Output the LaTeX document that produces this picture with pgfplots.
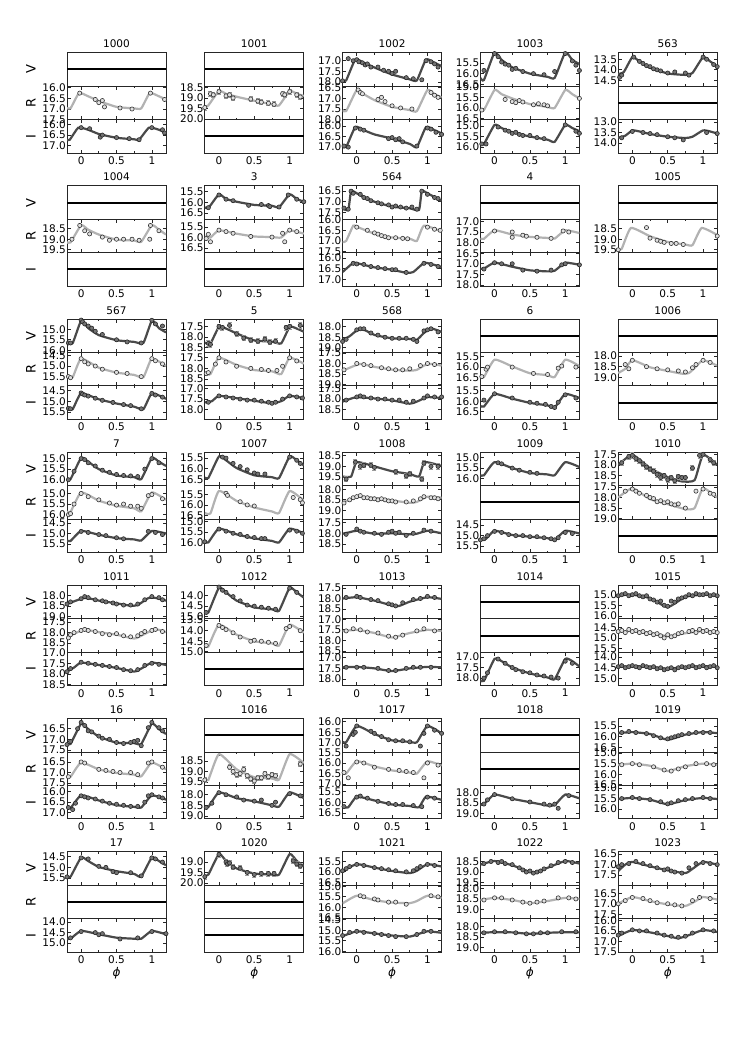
\documentclass[border=0pt]{standalone}
\usepackage{fontspec}
\setmainfont{DejaVu Sans}
\usepackage{pgfplots}
\pgfplotsset{compat=1.18}

\definecolor{dk}{HTML}{4A4A4A}
\definecolor{lt}{HTML}{B2B2B2}

\pgfplotsset{
  panel/.style={scale only axis, width=99pt, height=33.45pt, anchor=north west,
    xmin=-0.2, xmax=1.2, y dir=reverse,
    axis line style={line width=0.9pt, black!85},
    xtick={0,0.5,1}, minor xtick={0.25,0.75}, xticklabels={},
    ytick distance=0.5, tick align=inside,
    major tick length=3.5pt, minor tick length=2pt,
    tick style={line width=0.7pt, black!85},
    tick label style={font=\fontsize{10.5}{10.5}\selectfont},
    yticklabel style={inner sep=1pt},
    /pgf/number format/assume math mode=true,
    /pgf/number format/fixed, /pgf/number format/fixed zerofill,
    /pgf/number format/precision=1},
  bot/.style={xticklabels={0,0.5,1}},
  botx/.style={bot, xlabel={ϕ}, xlabel style={font=\fontsize{12}{12}\selectfont\itshape, yshift=3pt}},
  Vline/.style={dk, line width=2.2pt, smooth, tension=0.3, no marks},
  Iline/.style={Vline},
  Rline/.style={lt, line width=2.2pt, smooth, tension=0.3, no marks},
  Vpts/.style={only marks, mark=*, mark size=2.1pt, mark options={draw=black!85, fill=black!55, line width=0.6pt}},
  Ipts/.style={Vpts},
  Rpts/.style={only marks, mark=*, mark size=2.1pt, mark options={draw=black!80, fill=black!12, line width=0.6pt}},
  eb/.style={error bars/.cd, y dir=both, y fixed=0.12, error bar style={gray!80, line width=0.8pt}, error mark options={rotate=90, mark size=2pt, gray!80, line width=0.8pt}},
  VEline/.style={Vline}, VEpts/.style={Vpts, eb},
  REline/.style={Rline}, REpts/.style={Rpts, eb},
}

% #1 col, #2 row, #3 band, #4 top mag, #5 V/R/I, #6 model, #7 points, #8 options
\newcommand{\band}[8]{%
  \pgfmathsetmacro\bandx{67+137.8*#1}%
  \pgfmathsetmacro\bandy{52.7+133.17*#2+33.45*#3}%
  \pgfmathsetmacro\bandt{#4+1.581}%
  \begin{axis}[panel, at={(\bandx pt,-\bandy pt)}, ymin=#4, ymax=\bandt, #8]
    \addplot[#5line] coordinates {#6};
    \addplot[#5pts] coordinates {#7};
  \end{axis}}

% empty band: frame and a thick middle line
\newcommand{\eband}[4]{%
  \pgfmathsetmacro\bandx{67+137.8*#1}%
  \pgfmathsetmacro\bandy{52.7+133.17*#2+33.45*#3}%
  \begin{axis}[panel, at={(\bandx pt,-\bandy pt)}, ymin=0, ymax=1, ytick=\empty,
      tick style={draw=none}, #4]
    \addplot[black, line width=2pt, no marks] coordinates {(-0.2,0.5) (1.2,0.5)};
  \end{axis}}

\newcommand{\ttl}[3]{%
  \pgfmathsetmacro\bandx{67+137.8*#1+49.5}%
  \pgfmathsetmacro\bandy{52.7+133.17*#2-8.7}%
  \node[font=\fontsize{10.5}{11}\selectfont] at (\bandx pt,-\bandy pt) {#3};}

\newcommand{\vri}[1]{%
  \pgfmathsetmacro\bandy{52.7+133.17*#1+16.7}%
  \node[rotate=90, font=\fontsize{13}{13}\selectfont] at (31pt,-\bandy pt) {V};
  \pgfmathsetmacro\bandy{52.7+133.17*#1+50.2}%
  \node[rotate=90, font=\fontsize{13}{13}\selectfont] at (31pt,-\bandy pt) {R};
  \pgfmathsetmacro\bandy{52.7+133.17*#1+83.6}%
  \node[rotate=90, font=\fontsize{13}{13}\selectfont] at (31pt,-\bandy pt) {I};}

\begin{document}
\begin{tikzpicture}
\path[use as bounding box] (0,0) rectangle (747pt,-1046pt);
\foreach \r in {0,...,6} {\vri{\r}}

% ---------------- row 0
\ttl{0}{0}{1000}
\eband{0}{0}{0}{}
\band{0}{0}{1}{15.92}{R}{(-0.2,16.95)(-0.15,16.97)(-0.03,16.25)(0.1,16.4)(0.25,16.62)(0.5,16.9)(0.75,16.97)(0.85,16.97)(0.97,16.25)(1.1,16.4)(1.2,16.55)}
 {(-0.02,16.25)(0.2,16.55)(0.25,16.7)(0.3,16.6)(0.33,16.9)(0.55,16.95)(0.72,17.0)(0.98,16.25)(1.18,16.55)}{}
\band{0}{0}{2}{15.77}{I}{(-0.2,16.72)(-0.16,16.72)(-0.04,16.15)(0.1,16.25)(0.25,16.45)(0.5,16.63)(0.75,16.7)(0.82,16.72)(0.96,16.15)(1.1,16.25)(1.2,16.4)}
 {(0.0,16.15)(0.12,16.2)(0.27,16.6)(0.3,16.5)(0.5,16.62)(0.68,16.67)(0.82,16.72)(1.0,16.15)(1.15,16.25)(1.18,16.4)}{bot}

\ttl{1}{0}{1001}
\eband{1}{0}{0}{}
\band{1}{0}{1}{18.44}{RE}{(-0.2,19.45)(-0.15,19.35)(0.0,18.67)(0.1,18.8)(0.25,18.94)(0.5,19.13)(0.75,19.3)(0.85,19.35)(1.0,18.67)(1.1,18.8)(1.2,18.9)}
 {(-0.2,19.45)(-0.12,18.8)(-0.08,18.85)(0.0,18.7)(0.1,18.9)(0.15,18.85)(0.2,19.0)(0.45,19.05)(0.55,19.15)(0.6,19.2)(0.7,19.25)(0.78,19.3)(0.9,18.8)(0.93,18.85)(1.0,18.7)(1.1,18.85)(1.15,18.95)}{}
\eband{1}{0}{2}{bot}

\ttl{2}{0}{1002}
\band{2}{0}{0}{16.62}{V}{(-0.2,17.93)(-0.15,17.93)(-0.02,16.94)(0.1,17.1)(0.25,17.32)(0.5,17.65)(0.75,17.88)(0.85,17.93)(0.98,16.94)(1.1,17.1)(1.2,17.25)}
 {(-0.2,17.95)(-0.12,16.9)(-0.05,17.0)(0.0,16.95)(0.03,17.05)(0.08,17.1)(0.12,17.2)(0.15,17.15)(0.2,17.3)(0.3,17.3)(0.38,17.45)(0.45,17.5)(0.5,17.6)(0.55,17.5)(0.7,17.8)(0.8,17.85)(0.92,17.9)(0.98,17.0)(1.05,17.05)(1.1,17.15)(1.15,17.3)}{}
\band{2}{0}{1}{16.42}{R}{(-0.2,17.55)(-0.15,17.6)(0.0,16.6)(0.1,16.8)(0.25,17.08)(0.5,17.4)(0.75,17.55)(0.85,17.6)(1.0,16.6)(1.1,16.8)(1.2,16.95)}
 {(0.02,16.6)(0.05,16.72)(0.08,16.78)(0.3,17.05)(0.35,16.95)(0.4,17.15)(0.5,17.35)(0.62,17.45)(0.78,17.5)(1.05,16.72)(1.1,16.85)(1.15,16.95)}{}
\band{2}{0}{2}{15.7}{I}{(-0.2,16.95)(-0.15,17.0)(-0.02,16.05)(0.1,16.2)(0.25,16.4)(0.5,16.6)(0.75,16.85)(0.85,17.0)(0.98,16.05)(1.1,16.2)(1.2,16.35)}
 {(-0.18,16.95)(-0.12,17.0)(-0.02,16.1)(0.05,16.15)(0.1,16.2)(0.45,16.6)(0.5,16.55)(0.55,16.65)(0.6,16.6)(0.65,16.75)(0.85,16.95)(1.0,16.1)(1.05,16.15)(1.12,16.3)(1.2,16.4)}{bot}

\ttl{3}{0}{1003}
\band{3}{0}{0}{15.01}{V}{(-0.2,16.2)(-0.15,16.3)(0.0,15.0)(0.1,15.35)(0.25,15.7)(0.5,16.0)(0.75,16.15)(0.85,16.2)(1.0,15.0)(1.1,15.35)(1.2,15.55)}
 {(-0.15,15.85)(0.0,15.05)(0.05,15.2)(0.1,15.45)(0.15,15.55)(0.2,15.6)(0.25,15.8)(0.3,15.75)(0.4,15.9)(0.55,16.0)(0.7,16.05)(0.85,15.9)(1.0,15.05)(1.1,15.4)(1.15,15.6)(1.2,15.85)}{}
\band{3}{0}{1}{14.97}{R}{(-0.2,16.05)(-0.15,16.1)(0.0,15.15)(0.1,15.35)(0.25,15.55)(0.5,15.82)(0.75,15.95)(0.85,16.0)(1.0,15.15)(1.1,15.35)(1.2,15.55)}
 {(-0.18,16.1)(0.15,15.6)(0.25,15.7)(0.3,15.75)(0.35,15.65)(0.4,15.72)(0.55,15.85)(0.62,15.8)(0.7,15.85)(0.75,15.9)(1.2,15.55)}{}
\band{3}{0}{2}{14.7}{I}{(-0.2,15.8)(-0.15,15.85)(0.0,14.95)(0.1,15.1)(0.25,15.3)(0.5,15.5)(0.75,15.65)(0.85,15.75)(1.0,14.95)(1.1,15.1)(1.2,15.25)}
 {(-0.18,15.85)(-0.12,15.85)(0.05,15.05)(0.15,15.2)(0.2,15.25)(0.25,15.35)(0.3,15.3)(0.35,15.4)(0.4,15.45)(0.5,15.45)(0.6,15.55)(0.7,15.6)(1.0,14.95)(1.15,15.25)(1.2,15.35)}{bot}

\ttl{4}{0}{563}
\band{4}{0}{0}{13.19}{V}{(-0.2,14.2)(-0.12,14.1)(0.0,13.4)(0.1,13.6)(0.25,13.9)(0.5,14.17)(0.75,14.24)(0.85,14.15)(1.0,13.4)(1.1,13.6)(1.2,13.85)}
 {(-0.18,14.35)(-0.15,14.25)(0.02,13.4)(0.1,13.6)(0.15,13.7)(0.2,13.8)(0.25,13.85)(0.3,13.95)(0.35,14.0)(0.4,14.05)(0.5,14.15)(0.6,14.1)(0.75,14.15)(0.8,14.25)(1.0,13.4)(1.05,13.5)(1.15,13.75)(1.2,13.85)}{}
\eband{4}{0}{1}{}
\band{4}{0}{2}{12.89}{I}{(-0.2,13.75)(-0.1,13.65)(0.0,13.4)(0.1,13.45)(0.25,13.57)(0.5,13.7)(0.75,13.76)(0.85,13.7)(1.0,13.4)(1.1,13.45)(1.2,13.55)}
 {(-0.15,13.75)(0.0,13.45)(0.15,13.5)(0.25,13.55)(0.35,13.6)(0.5,13.7)(0.6,13.75)(0.72,13.85)(1.05,13.5)(1.2,13.55)}{bot}

% ---------------- row 1
\ttl{0}{1}{1004}
\eband{0}{1}{0}{}
\band{0}{1}{1}{18.06}{R}{(-0.2,19.14)(-0.15,19.15)(0.0,18.34)(0.1,18.55)(0.25,18.78)(0.5,19.02)(0.75,19.06)(0.85,19.12)(1.0,18.34)(1.1,18.55)(1.2,18.78)}
 {(-0.13,19.0)(-0.02,18.35)(0.05,18.6)(0.12,18.75)(0.3,18.9)(0.4,19.05)(0.5,19.0)(0.6,19.0)(0.72,19.0)(0.82,19.05)(0.97,19.0)(0.98,18.35)(1.1,18.6)}{}
\eband{0}{1}{2}{bot}

\ttl{1}{1}{3}
\band{1}{1}{0}{15.22}{V}{(-0.2,16.23)(-0.15,16.27)(0.0,15.62)(0.1,15.84)(0.25,15.97)(0.5,16.12)(0.75,16.16)(0.85,16.23)(1.0,15.62)(1.1,15.84)(1.2,15.97)}
 {(-0.15,16.25)(0.0,15.65)(0.1,15.85)(0.2,15.92)(0.42,16.14)(0.6,16.1)(0.7,16.15)(0.72,16.2)(0.85,16.22)(0.98,15.65)(1.1,15.85)(1.2,15.97)}{}
\band{1}{1}{1}{15.14}{R}{(-0.2,15.95)(-0.12,16.0)(0.0,15.66)(0.25,15.82)(0.5,15.95)(0.75,15.98)(0.88,16.0)(1.0,15.66)(1.2,15.82)}
 {(-0.18,16.05)(-0.15,15.85)(-0.12,16.2)(0.0,15.65)(0.1,15.72)(0.2,15.8)(0.45,15.95)(0.75,15.98)(0.9,15.8)(0.93,16.2)(1.0,15.65)(1.1,15.72)}{}
\eband{1}{1}{2}{bot}

\ttl{2}{1}{564}
\band{2}{1}{0}{16.25}{V}{(-0.2,17.31)(-0.12,17.39)(-0.08,16.5)(0.0,16.6)(0.1,16.78)(0.25,17.0)(0.5,17.23)(0.75,17.31)(0.88,17.39)(0.92,16.5)(1.0,16.6)(1.1,16.78)(1.2,16.95)}
 {(-0.18,17.3)(-0.12,17.35)(-0.08,16.5)(-0.05,16.6)(0.05,16.65)(0.1,16.8)(0.15,16.85)(0.2,16.95)(0.3,17.05)(0.35,17.1)(0.45,17.15)(0.5,17.25)(0.55,17.2)(0.62,17.25)(0.7,17.3)(0.78,17.25)(0.85,17.35)(0.92,16.5)(1.0,16.65)(1.1,16.8)(1.15,16.85)}{}
\band{2}{1}{1}{15.98}{R}{(-0.2,17.06)(-0.15,17.0)(-0.05,16.28)(0.0,16.33)(0.25,16.66)(0.5,16.84)(0.75,16.9)(0.85,17.0)(0.95,16.28)(1.2,16.56)}
 {(0.0,16.35)(0.15,16.5)(0.25,16.62)(0.3,16.68)(0.35,16.75)(0.4,16.8)(0.45,16.85)(0.55,16.85)(0.65,16.88)(0.72,16.9)(1.0,16.35)(1.1,16.45)(1.18,16.5)}{}
\band{2}{1}{2}{15.75}{I}{(-0.2,16.66)(-0.05,16.23)(0.05,16.28)(0.25,16.44)(0.5,16.55)(0.7,16.7)(0.8,16.66)(0.95,16.23)(1.05,16.28)(1.2,16.42)}
 {(-0.05,16.25)(0.0,16.28)(0.1,16.3)(0.2,16.4)(0.3,16.45)(0.4,16.5)(0.5,16.55)(0.55,16.55)(0.7,16.68)(0.95,16.25)(1.05,16.3)(1.15,16.4)}{bot}

\ttl{3}{1}{4}
\eband{3}{1}{0}{}
\band{3}{1}{1}{16.9}{R}{(-0.2,17.81)(-0.15,17.82)(0.0,17.42)(0.25,17.62)(0.5,17.73)(0.75,17.78)(0.85,17.81)(1.0,17.42)(1.2,17.55)}
 {(0.0,17.45)(0.25,17.5)(0.25,17.75)(0.4,17.65)(0.45,17.7)(0.6,17.75)(0.8,17.8)(0.97,17.45)(1.05,17.5)}{}
\band{3}{1}{2}{16.48}{I}{(-0.2,17.23)(-0.15,17.23)(0.0,16.95)(0.25,17.14)(0.5,17.31)(0.75,17.36)(0.85,17.33)(1.0,16.95)(1.2,17.05)}
 {(-0.15,17.25)(0.0,16.95)(0.1,17.0)(0.25,17.0)(0.4,17.3)(0.6,17.35)(0.8,17.3)(0.95,17.05)(1.0,17.0)(1.2,17.05)}{bot}

\ttl{4}{1}{1005}
\eband{4}{1}{0}{}
\band{4}{1}{1}{18.06}{R}{(-0.2,19.5)(-0.15,19.45)(-0.02,18.47)(0.25,18.86)(0.5,19.13)(0.75,19.25)(0.85,19.28)(0.98,18.47)(1.2,18.8)}
 {(-0.2,19.5)(0.2,18.45)(0.25,18.95)(0.35,19.05)(0.4,19.1)(0.45,19.15)(0.55,19.2)(0.62,19.2)(0.72,19.25)(1.2,18.85)}{}
\eband{4}{1}{2}{bot}

% ---------------- row 2
\ttl{0}{2}{567}
\band{0}{2}{0}{14.52}{V}{(-0.2,15.65)(-0.12,15.66)(0.0,14.6)(0.1,14.95)(0.25,15.28)(0.5,15.52)(0.75,15.6)(0.88,15.65)(1.0,14.6)(1.1,14.95)(1.2,15.15)}
 {(-0.18,15.65)(-0.15,15.65)(0.0,14.57)(0.02,14.65)(0.05,14.75)(0.1,14.85)(0.15,14.95)(0.2,15.1)(0.3,15.25)(0.5,15.5)(0.65,15.6)(0.85,15.65)(1.0,14.58)(1.05,14.75)(1.15,14.85)}{}
\band{0}{2}{1}{14.36}{R}{(-0.2,15.5)(-0.12,15.53)(0.0,14.65)(0.25,15.08)(0.5,15.31)(0.75,15.42)(0.88,15.53)(1.0,14.65)(1.2,15.0)}
 {(-0.18,15.5)(-0.15,15.55)(0.0,14.65)(0.05,14.8)(0.1,14.9)(0.2,15.0)(0.3,15.15)(0.5,15.3)(0.65,15.35)(0.85,15.5)(1.0,14.65)(1.05,14.75)(1.15,14.9)}{}
\band{0}{2}{2}{14.27}{I}{(-0.2,15.34)(-0.12,15.37)(0.0,14.62)(0.25,14.9)(0.5,15.1)(0.75,15.25)(0.88,15.37)(1.0,14.62)(1.2,14.88)}
 {(-0.18,15.33)(-0.15,15.35)(0.0,14.6)(0.02,14.65)(0.05,14.7)(0.1,14.75)(0.2,14.85)(0.3,14.95)(0.45,15.05)(0.6,15.15)(0.7,15.2)(0.85,15.35)(1.0,14.62)(1.05,14.7)(1.15,14.8)}{bot}

\ttl{1}{2}{5}
\band{1}{2}{0}{17.15}{VE}{(-0.2,18.27)(-0.12,18.3)(0.0,17.52)(0.1,17.6)(0.25,17.83)(0.5,18.16)(0.75,18.22)(0.88,18.3)(1.0,17.52)(1.1,17.6)(1.2,17.75)}
 {(-0.15,18.3)(-0.12,18.35)(0.0,17.5)(0.05,17.55)(0.15,17.45)(0.25,17.85)(0.35,18.05)(0.45,18.15)(0.55,18.2)(0.65,18.1)(0.72,18.25)(0.8,18.2)(0.95,17.55)(1.0,17.5)(1.15,17.45)}{}
\band{1}{2}{1}{17.25}{R}{(-0.2,18.27)(-0.12,18.27)(0.0,17.5)(0.25,17.84)(0.5,18.08)(0.75,18.14)(0.88,18.27)(1.0,17.5)(1.2,17.78)}
 {(-0.18,18.25)(-0.15,18.2)(-0.05,17.8)(0.0,17.5)(0.1,17.7)(0.25,17.9)(0.45,18.0)(0.6,18.05)(0.7,18.1)(0.82,18.1)(0.9,17.9)(1.0,17.5)(1.1,17.65)}{}
\band{1}{2}{2}{16.88}{I}{(-0.2,17.66)(-0.1,17.6)(0.0,17.35)(0.25,17.46)(0.5,17.58)(0.75,17.7)(0.88,17.6)(1.0,17.35)(1.2,17.46)}
 {(-0.15,17.65)(0.0,17.35)(0.1,17.4)(0.2,17.45)(0.3,17.5)(0.4,17.55)(0.5,17.55)(0.6,17.6)(0.7,17.65)(0.75,17.7)(0.8,17.65)(0.9,17.5)(1.0,17.35)(1.1,17.4)(1.18,17.45)}{bot}

\ttl{2}{2}{568}
\band{2}{2}{0}{17.64}{V}{(-0.2,18.62)(-0.1,18.45)(0.05,18.08)(0.25,18.39)(0.5,18.55)(0.75,18.58)(0.85,18.62)(0.95,18.3)(1.05,18.08)(1.2,18.25)}
 {(-0.2,18.7)(-0.15,18.6)(0.0,18.15)(0.05,18.1)(0.1,18.1)(0.2,18.3)(0.3,18.4)(0.4,18.5)(0.5,18.55)(0.6,18.55)(0.7,18.55)(0.8,18.6)(0.85,18.7)(0.95,18.2)(1.0,18.15)(1.05,18.1)(1.15,18.25)}{}
\band{2}{2}{1}{17.48}{R}{(-0.2,18.35)(-0.1,18.2)(0.05,18.02)(0.25,18.16)(0.5,18.29)(0.75,18.34)(0.85,18.3)(0.95,18.1)(1.05,18.02)(1.2,18.1)}
 {(-0.18,18.3)(0.0,18.0)(0.1,18.05)(0.2,18.1)(0.35,18.2)(0.45,18.25)(0.55,18.3)(0.65,18.3)(0.75,18.25)(0.9,18.1)(1.0,18.0)(1.1,18.05)}{}
\band{2}{2}{2}{17.38}{I}{(-0.2,18.12)(-0.1,18.0)(0.0,17.91)(0.25,17.97)(0.5,18.06)(0.75,18.22)(0.85,18.12)(1.0,17.91)(1.2,17.95)}
 {(-0.15,18.05)(0.0,17.9)(0.05,17.85)(0.1,17.9)(0.2,17.95)(0.3,18.0)(0.4,18.0)(0.5,18.05)(0.6,18.05)(0.7,18.15)(0.8,18.1)(0.95,17.95)(1.0,17.85)(1.1,17.9)(1.2,17.9)}{bot}

\ttl{3}{2}{6}
\eband{3}{2}{0}{}
\band{3}{2}{1}{15.31}{R}{(-0.2,16.45)(-0.15,16.47)(0.0,15.65)(0.25,15.97)(0.5,16.29)(0.75,16.38)(0.85,16.47)(1.0,15.65)(1.2,15.95)}
 {(-0.18,16.45)(-0.12,16.1)(-0.1,16.0)(0.25,16.0)(0.55,16.3)(0.75,16.35)(0.9,16.05)(0.95,15.95)(1.15,16.0)}{}
\band{3}{2}{2}{15.28}{I}{(-0.2,16.23)(-0.15,16.25)(0.0,15.66)(0.25,15.88)(0.5,16.08)(0.75,16.2)(0.85,16.3)(1.0,15.66)(1.2,15.85)}
 {(-0.15,15.95)(0.0,15.65)(0.25,15.85)(0.5,16.05)(0.6,16.1)(0.72,16.15)(0.8,16.25)(0.85,16.3)(0.9,16.05)(1.0,15.7)(1.15,15.85)}{bot}

\ttl{4}{2}{1006}
\eband{4}{2}{0}{}
\band{4}{2}{1}{17.83}{R}{(-0.2,18.8)(-0.1,18.6)(0.0,18.19)(0.25,18.53)(0.5,18.7)(0.7,18.83)(0.8,18.8)(0.9,18.5)(1.0,18.19)(1.2,18.45)}
 {(-0.1,18.4)(-0.05,18.6)(0.0,18.2)(0.2,18.5)(0.35,18.6)(0.5,18.65)(0.65,18.7)(0.75,18.75)(0.85,18.55)(0.9,18.4)(1.0,18.2)(1.1,18.3)}{}
\eband{4}{2}{2}{bot}

% ---------------- row 3
\ttl{0}{3}{7}
\band{0}{3}{0}{14.7}{V}{(-0.2,15.95)(-0.15,15.97)(0.0,14.97)(0.1,15.15)(0.25,15.5)(0.5,15.8)(0.75,15.88)(0.85,15.97)(1.0,14.97)(1.1,15.15)(1.2,15.35)}
 {(-0.18,16.0)(-0.1,15.6)(0.0,15.0)(0.05,15.05)(0.1,15.2)(0.2,15.35)(0.3,15.55)(0.4,15.65)(0.5,15.75)(0.6,15.8)(0.7,15.82)(0.8,15.85)(0.9,15.5)(1.0,15.0)(1.1,15.2)}{}
\band{0}{3}{1}{14.63}{R}{(-0.2,15.85)(-0.15,15.87)(0.0,14.95)(0.25,15.34)(0.5,15.58)(0.75,15.7)(0.85,15.84)(1.0,14.95)(1.2,15.3)}
 {(-0.18,16.0)(-0.15,15.95)(-0.1,15.5)(0.0,15.0)(0.1,15.15)(0.25,15.3)(0.4,15.45)(0.5,15.55)(0.6,15.5)(0.7,15.6)(0.8,15.6)(0.85,15.7)(0.95,15.1)(1.0,15.05)(1.15,15.25)}{}
\band{0}{3}{2}{14.32}{I}{(-0.2,15.33)(-0.15,15.35)(0.0,14.88)(0.25,15.06)(0.5,15.22)(0.75,15.28)(0.85,15.33)(1.0,14.88)(1.2,15.0)}
 {(0.0,14.9)(0.1,14.95)(0.25,15.05)(0.35,15.1)(0.5,15.2)(0.6,15.25)(0.95,14.9)(1.05,14.95)(1.15,15.05)}{bot}

\ttl{1}{3}{1007}
\band{1}{3}{0}{15.22}{V}{(-0.2,16.42)(-0.15,16.44)(0.0,15.42)(0.1,15.6)(0.25,15.97)(0.5,16.31)(0.75,16.4)(0.85,16.44)(1.0,15.42)(1.1,15.6)(1.2,15.85)}
 {(0.05,15.45)(0.1,15.5)(0.2,15.75)(0.3,15.9)(0.4,16.05)(0.5,16.2)(0.55,16.25)(0.65,16.25)(1.0,15.45)(1.1,15.6)(1.15,15.75)}{}
\band{1}{3}{1}{15.09}{R}{(-0.2,16.38)(-0.12,16.4)(0.0,15.34)(0.25,15.81)(0.5,16.12)(0.75,16.31)(0.85,16.38)(1.0,15.34)(1.2,15.8)}
 {(0.1,15.45)(0.12,15.55)(0.3,15.85)(0.4,16.0)(0.5,16.05)(1.05,15.65)(1.15,15.75)(1.18,15.9)}{}
\band{1}{3}{2}{14.88}{I}{(-0.2,15.96)(-0.15,15.98)(0.0,15.33)(0.25,15.6)(0.5,15.79)(0.75,15.91)(0.85,15.98)(1.0,15.33)(1.2,15.55)}
 {(-0.2,15.95)(0.0,15.35)(0.1,15.45)(0.2,15.55)(0.3,15.6)(0.4,15.7)(0.5,15.75)(0.6,15.8)(0.65,15.8)(1.0,15.4)(1.1,15.45)(1.18,15.55)}{bot}

\ttl{2}{3}{1008}
\band{2}{3}{0}{18.33}{VE}{(-0.2,19.48)(-0.08,19.48)(0.0,18.8)(0.25,19.0)(0.5,19.23)(0.75,19.36)(0.88,19.48)(0.96,18.8)(1.2,18.98)}
 {(-0.15,19.6)(-0.02,18.8)(0.05,19.0)(0.1,18.95)(0.2,18.95)(0.25,19.05)(0.55,19.25)(0.7,19.45)(0.75,19.35)(0.92,19.6)(0.95,18.85)(1.05,19.0)(1.15,19.0)}{}
\band{2}{3}{1}{17.83}{R}{(-0.2,18.62)(-0.1,18.5)(0.0,18.35)(0.25,18.41)(0.5,18.53)(0.75,18.64)(0.85,18.6)(1.0,18.35)(1.2,18.4)}
 {(-0.18,18.65)(-0.1,18.5)(-0.05,18.4)(0.0,18.35)(0.05,18.3)(0.1,18.4)(0.15,18.4)(0.2,18.45)(0.25,18.45)(0.3,18.5)(0.35,18.45)(0.4,18.5)(0.45,18.55)(0.5,18.55)(0.55,18.6)(0.7,18.6)(0.8,18.55)(0.9,18.45)(0.95,18.35)(1.05,18.4)(1.1,18.4)(1.15,18.45)}{}
\band{2}{3}{2}{17.33}{I}{(-0.2,18.02)(-0.1,17.95)(0.0,17.88)(0.25,18.02)(0.5,18.0)(0.75,18.05)(0.85,18.02)(1.0,17.88)(1.2,18.0)}
 {(-0.15,18.05)(0.0,17.8)(0.05,17.9)(0.1,17.95)(0.25,18.0)(0.35,18.05)(0.45,17.95)(0.5,17.9)(0.55,18.0)(0.6,17.95)(0.7,18.1)(0.8,18.0)(0.95,17.85)(1.05,17.9)}{bot}

\ttl{3}{3}{1009}
\band{3}{3}{0}{14.75}{V}{(-0.2,15.84)(-0.15,15.84)(0.0,15.22)(0.25,15.5)(0.5,15.73)(0.75,15.8)(0.85,15.84)(1.0,15.22)(1.2,15.45)}
 {(0.05,15.25)(0.1,15.3)(0.25,15.5)(0.35,15.6)(0.5,15.7)(0.6,15.75)}{}
\eband{3}{3}{1}{}
\band{3}{3}{2}{14.22}{I}{(-0.2,15.16)(-0.12,15.15)(0.0,14.77)(0.25,14.97)(0.5,15.05)(0.75,15.12)(0.85,15.2)(1.0,14.77)(1.2,14.9)}
 {(-0.2,15.2)(-0.15,15.15)(-0.1,15.0)(0.0,14.8)(0.1,14.85)(0.2,14.95)(0.3,15.0)(0.4,15.0)(0.5,15.05)(0.6,15.05)(0.7,15.1)(0.8,15.15)(0.85,15.2)(0.9,15.1)(1.0,14.85)(1.1,14.9)}{bot}

\ttl{4}{3}{1010}
\band{4}{3}{0}{17.4}{VE}{(-0.2,18.0)(0.0,17.52)(0.25,18.15)(0.5,18.58)(0.7,18.78)(0.88,18.72)(1.0,17.52)(1.2,18.0)}
 {(-0.15,17.9)(-0.05,17.6)(0.0,17.55)(0.05,17.7)(0.1,17.8)(0.15,17.95)(0.2,18.1)(0.25,18.2)(0.3,18.3)(0.35,18.45)(0.4,18.6)(0.45,18.5)(0.5,18.7)(0.55,18.6)(0.6,18.75)(0.65,18.55)(0.7,18.6)(0.75,18.6)(0.85,18.15)(0.95,17.55)(1.0,17.5)(1.1,17.75)(1.15,17.9)}{}
\band{4}{3}{1}{17.44}{R}{(-0.2,18.0)(0.0,17.56)(0.25,18.08)(0.5,18.31)(0.75,18.55)(0.88,18.5)(1.0,17.56)(1.2,18.0)}
 {(-0.1,17.7)(0.0,17.6)(0.05,17.7)(0.1,17.8)(0.2,17.9)(0.25,18.0)(0.3,18.05)(0.35,18.2)(0.4,18.15)(0.45,18.25)(0.5,18.2)(0.55,18.3)(0.6,18.35)(0.65,18.3)(0.75,18.5)(0.9,17.7)(1.0,17.6)(1.1,17.8)(1.15,17.85)}{}
\eband{4}{3}{2}{bot}

% ---------------- row 4
\ttl{0}{4}{1011}
\band{0}{4}{0}{17.52}{V}{(-0.2,18.4)(0.05,18.11)(0.25,18.24)(0.5,18.37)(0.7,18.48)(0.8,18.45)(0.95,18.12)(1.05,18.11)(1.2,18.24)}
 {(-0.2,18.4)(-0.15,18.3)(0.0,18.15)(0.05,18.05)(0.1,18.1)(0.2,18.2)(0.3,18.25)(0.35,18.3)(0.45,18.35)(0.5,18.4)(0.6,18.45)(0.7,18.45)(0.8,18.4)(0.9,18.2)(1.0,18.05)(1.1,18.1)(1.15,18.2)}{}
\band{0}{4}{1}{17.35}{R}{(-0.2,18.24)(-0.1,18.05)(0.05,17.87)(0.25,17.98)(0.5,18.1)(0.75,18.28)(0.85,18.15)(1.0,17.9)(1.1,17.87)(1.2,17.98)}
 {(-0.18,18.25)(-0.15,18.1)(-0.1,18.0)(0.0,17.9)(0.05,17.85)(0.1,17.9)(0.2,17.95)(0.3,18.05)(0.4,18.1)(0.5,18.05)(0.6,18.15)(0.7,18.2)(0.8,18.15)(0.85,18.05)(0.9,17.95)(1.0,17.9)(1.05,17.85)(1.15,17.95)}{}
\band{0}{4}{2}{16.98}{I}{(-0.2,17.89)(-0.1,17.7)(0.0,17.47)(0.25,17.58)(0.5,17.72)(0.75,17.89)(0.85,17.75)(1.0,17.47)(1.2,17.58)}
 {(-0.2,17.9)(-0.15,17.75)(0.0,17.45)(0.1,17.5)(0.2,17.55)(0.3,17.6)(0.4,17.65)(0.5,17.7)(0.6,17.8)(0.7,17.85)(0.8,17.8)(0.9,17.6)(1.0,17.5)(1.1,17.55)}{bot}

\ttl{1}{4}{1012}
\band{1}{4}{0}{13.52}{V}{(-0.2,14.78)(-0.15,14.8)(0.0,13.63)(0.1,13.85)(0.25,14.24)(0.5,14.56)(0.75,14.65)(0.85,14.72)(1.0,13.63)(1.1,13.85)(1.2,14.1)}
 {(-0.18,14.8)(0.0,13.6)(0.05,13.75)(0.1,13.85)(0.2,14.05)(0.3,14.25)(0.4,14.45)(0.5,14.5)(0.6,14.55)(0.7,14.6)(0.8,14.65)(1.0,13.65)(1.1,13.85)}{}
\band{1}{4}{1}{13.44}{R}{(-0.2,14.73)(-0.15,14.75)(0.0,13.72)(0.25,14.19)(0.5,14.5)(0.75,14.6)(0.85,14.7)(1.0,13.72)(1.2,14.1)}
 {(-0.18,14.7)(0.0,13.75)(0.05,13.85)(0.1,13.95)(0.2,14.1)(0.3,14.3)(0.45,14.5)(0.5,14.45)(0.6,14.5)(0.7,14.55)(0.8,14.6)(0.95,13.9)(1.0,13.8)(1.15,14.0)}{}
\eband{1}{4}{2}{bot}

\ttl{2}{4}{1013}
\band{2}{4}{0}{17.38}{V}{(-0.2,18.0)(0.0,17.94)(0.25,18.1)(0.5,18.33)(0.6,18.35)(0.75,18.15)(1.0,17.94)(1.2,18.02)}
 {(-0.15,17.95)(0.0,17.9)(0.05,17.95)(0.2,18.05)(0.3,18.1)(0.45,18.25)(0.5,18.3)(0.55,18.35)(0.65,18.2)(0.8,18.05)(0.9,18.0)(1.0,17.9)(1.1,17.95)}{}
\band{2}{4}{1}{16.98}{R}{(-0.2,17.56)(0.0,17.5)(0.25,17.65)(0.5,17.86)(0.75,17.65)(1.0,17.5)(1.2,17.56)}
 {(-0.15,17.55)(-0.05,17.45)(0.05,17.5)(0.15,17.6)(0.3,17.65)(0.45,17.8)(0.55,17.85)(0.65,17.75)(0.85,17.55)(0.95,17.45)(1.1,17.55)}{}
\band{2}{4}{2}{16.74}{I}{(-0.2,17.45)(0.0,17.43)(0.25,17.5)(0.5,17.63)(0.75,17.5)(1.0,17.43)(1.2,17.45)}
 {(-0.15,17.45)(0.0,17.45)(0.1,17.45)(0.3,17.5)(0.45,17.6)(0.55,17.6)(0.7,17.5)(0.8,17.45)(0.9,17.45)(1.05,17.45)}{bot}

\ttl{3}{4}{1014}
\eband{3}{4}{0}{}
\eband{3}{4}{1}{}
\band{3}{4}{2}{16.78}{I}{(-0.2,18.1)(-0.15,18.13)(0.0,17.09)(0.1,17.2)(0.25,17.5)(0.5,17.78)(0.75,17.97)(0.85,18.05)(1.0,17.09)(1.1,17.2)(1.2,17.45)}
 {(-0.15,18.0)(-0.1,17.75)(0.05,17.1)(0.15,17.3)(0.25,17.5)(0.3,17.6)(0.4,17.7)(0.5,17.75)(0.6,17.85)(0.7,17.9)(0.8,17.95)(0.9,18.0)(1.0,17.2)(1.1,17.3)}{bot}

\ttl{4}{4}{1015}
\band{4}{4}{0}{14.56}{V}{(-0.2,15.03)(0.0,15.0)(0.25,15.16)(0.5,15.59)(0.75,15.1)(1.0,15.0)(1.2,15.03)}
 {(-0.2,15.05)(-0.15,15.0)(-0.1,14.95)(-0.05,15.05)(0.0,15.0)(0.05,14.95)(0.1,15.05)(0.15,15.1)(0.2,15.05)(0.25,15.2)(0.3,15.25)(0.35,15.35)(0.4,15.3)(0.45,15.5)(0.5,15.55)(0.55,15.3)(0.6,15.35)(0.65,15.2)(0.7,15.15)(0.75,15.1)(0.8,15.0)(0.85,15.05)(0.9,14.95)(0.95,15.0)(1.0,15.0)(1.05,14.95)(1.1,15.05)(1.15,15.0)(1.2,15.05)}{}
\band{4}{4}{1}{14.1}{R}{(-0.2,14.7)(0.0,14.68)(0.25,14.75)(0.5,14.92)(0.75,14.78)(1.0,14.68)(1.2,14.7)}
 {(-0.2,14.7)(-0.15,14.65)(-0.1,14.75)(-0.05,14.6)(0.0,14.7)(0.05,14.65)(0.1,14.75)(0.15,14.7)(0.2,14.8)(0.25,14.75)(0.3,14.85)(0.35,14.8)(0.4,14.9)(0.45,15.0)(0.5,14.85)(0.55,14.95)(0.6,14.9)(0.65,14.8)(0.7,14.75)(0.8,14.7)(0.85,14.65)(0.9,14.75)(0.95,14.6)(1.0,14.7)(1.05,14.65)(1.1,14.75)(1.15,14.7)(1.2,14.75)}{}
\band{4}{4}{2}{13.77}{I}{(-0.2,14.45)(0.0,14.43)(0.25,14.45)(0.5,14.55)(0.75,14.46)(1.0,14.43)(1.2,14.45)}
 {(-0.2,14.45)(-0.15,14.4)(-0.1,14.5)(-0.05,14.45)(0.0,14.4)(0.05,14.45)(0.1,14.5)(0.15,14.4)(0.2,14.45)(0.25,14.5)(0.3,14.45)(0.35,14.55)(0.4,14.5)(0.45,14.6)(0.5,14.55)(0.55,14.5)(0.6,14.6)(0.65,14.5)(0.7,14.45)(0.75,14.5)(0.8,14.45)(0.85,14.4)(0.9,14.5)(0.95,14.45)(1.0,14.4)(1.05,14.5)(1.1,14.45)(1.15,14.4)(1.2,14.5)}{bot}

% ---------------- row 5
\ttl{0}{5}{16}
\band{0}{5}{0}{16.02}{V}{(-0.2,17.2)(-0.15,17.22)(0.0,16.26)(0.1,16.52)(0.25,16.87)(0.5,17.16)(0.75,17.18)(0.85,17.22)(1.0,16.26)(1.1,16.52)(1.2,16.75)}
 {(-0.2,17.25)(-0.15,17.1)(-0.05,16.5)(0.0,16.2)(0.05,16.35)(0.1,16.6)(0.15,16.65)(0.25,16.85)(0.3,16.95)(0.4,17.0)(0.5,17.15)(0.6,17.2)(0.7,17.15)(0.75,17.1)(0.8,17.05)(0.85,17.3)(0.95,16.45)(1.0,16.2)(1.1,16.45)(1.15,16.6)}{}
\band{0}{5}{1}{16.03}{R}{(-0.2,17.18)(-0.15,17.2)(0.0,16.53)(0.25,16.85)(0.5,17.02)(0.75,17.1)(0.85,17.18)(1.0,16.53)(1.2,16.85)}
 {(-0.18,17.2)(0.0,16.5)(0.05,16.55)(0.25,16.85)(0.35,16.9)(0.45,16.95)(0.55,17.0)(0.7,17.0)(0.8,17.1)(0.95,16.55)(1.0,16.5)(1.15,16.75)}{}
\band{0}{5}{2}{15.71}{I}{(-0.2,16.77)(-0.15,16.78)(0.0,16.18)(0.25,16.42)(0.5,16.64)(0.75,16.72)(0.85,16.75)(1.0,16.18)(1.2,16.38)}
 {(-0.18,16.75)(-0.12,16.85)(-0.08,16.55)(0.0,16.2)(0.05,16.25)(0.1,16.3)(0.2,16.35)(0.3,16.45)(0.4,16.55)(0.5,16.6)(0.6,16.65)(0.7,16.7)(0.8,16.7)(0.9,16.5)(0.95,16.2)(1.0,16.15)(1.1,16.25)(1.15,16.3)}{bot}

\ttl{1}{5}{1016}
\eband{1}{5}{0}{}
\band{1}{5}{1}{18.08}{RE}{(-0.2,19.38)(-0.15,19.4)(0.0,18.18)(0.25,18.9)(0.5,19.27)(0.75,19.33)(0.85,19.38)(1.0,18.18)(1.2,18.6)}
 {(-0.2,19.4)(0.15,18.8)(0.2,19.0)(0.25,19.15)(0.3,19.1)(0.35,18.9)(0.4,19.2)(0.45,19.35)(0.5,19.45)(0.55,19.3)(0.6,19.3)(0.65,19.1)(0.7,19.25)(0.75,19.15)(0.8,19.2)(1.15,18.65)}{}
\band{1}{5}{2}{17.56}{I}{(-0.2,18.56)(-0.15,18.58)(0.0,17.89)(0.25,18.16)(0.5,18.31)(0.75,18.5)(0.85,18.56)(1.0,17.89)(1.2,18.16)}
 {(-0.18,18.6)(-0.1,18.4)(0.0,17.9)(0.1,18.0)(0.25,18.1)(0.35,18.25)(0.5,18.3)(0.6,18.25)(0.75,18.5)(0.8,18.35)(1.0,17.95)(1.15,18.05)}{bot}

\ttl{2}{5}{1017}
\band{2}{5}{0}{15.85}{V}{(-0.2,16.95)(-0.15,16.97)(0.0,16.2)(0.25,16.58)(0.5,16.88)(0.75,16.95)(0.85,16.97)(1.0,16.2)(1.2,16.55)}
 {(-0.15,17.15)(-0.05,16.6)(-0.02,16.5)(0.0,16.2)(0.2,16.45)(0.25,16.55)(0.35,16.7)(0.45,16.85)(0.55,16.9)(0.65,16.9)(0.75,16.95)(0.9,17.15)(0.95,16.55)(1.0,16.2)(1.1,16.4)(1.2,16.55)}{}
\band{2}{5}{1}{15.48}{R}{(-0.2,16.5)(-0.15,16.5)(0.0,15.92)(0.25,16.16)(0.5,16.35)(0.75,16.45)(0.85,16.5)(1.0,15.92)(1.2,16.12)}
 {(-0.18,16.45)(-0.12,16.7)(0.0,15.95)(0.1,16.0)(0.25,16.2)(0.45,16.3)(0.6,16.35)(0.7,16.4)(0.8,16.45)(0.95,16.7)(1.0,16.0)(1.15,16.1)}{}
\band{2}{5}{2}{15.2}{I}{(-0.2,16.2)(-0.12,16.23)(0.0,15.73)(0.25,15.91)(0.5,16.1)(0.75,16.17)(0.88,16.23)(0.98,15.73)(1.2,15.88)}
 {(-0.18,16.2)(0.0,15.75)(0.05,15.7)(0.15,15.8)(0.3,15.95)(0.45,16.05)(0.55,16.1)(0.65,16.1)(0.8,16.15)(0.92,16.2)(1.0,15.75)(1.1,15.8)}{bot}

\ttl{3}{5}{1018}
\eband{3}{5}{0}{}
\eband{3}{5}{1}{}
\band{3}{5}{2}{17.67}{I}{(-0.2,18.58)(-0.15,18.55)(0.0,18.1)(0.25,18.3)(0.5,18.46)(0.75,18.62)(0.85,18.6)(1.0,18.1)(1.2,18.28)}
 {(-0.15,18.55)(-0.1,18.35)(0.0,18.1)(0.25,18.3)(0.5,18.45)(0.7,18.55)(0.78,18.6)(0.85,18.55)(0.9,18.75)(1.05,18.15)}{bot}

\ttl{4}{5}{1019}
\band{4}{5}{0}{15.14}{V}{(-0.2,15.83)(0.0,15.78)(0.25,15.87)(0.5,16.14)(0.75,15.9)(1.0,15.78)(1.2,15.83)}
 {(-0.15,15.8)(-0.05,15.75)(0.05,15.8)(0.2,15.85)(0.3,15.95)(0.4,16.05)(0.5,16.1)(0.55,16.05)(0.6,16.0)(0.65,15.95)(0.7,15.9)(0.8,15.85)(0.9,15.8)(1.0,15.8)(1.1,15.8)}{}
\band{4}{5}{1}{14.95}{R}{(-0.2,15.56)(0.0,15.5)(0.25,15.6)(0.5,15.85)(0.75,15.62)(1.0,15.5)(1.2,15.56)}
 {(-0.15,15.55)(0.0,15.5)(0.1,15.55)(0.3,15.65)(0.45,15.8)(0.55,15.85)(0.65,15.75)(0.75,15.65)(0.9,15.5)(1.05,15.5)(1.15,15.55)}{}
\band{4}{5}{2}{14.88}{I}{(-0.2,15.52)(0.0,15.47)(0.25,15.55)(0.5,15.77)(0.75,15.57)(1.0,15.47)(1.2,15.52)}
 {(-0.15,15.5)(0.0,15.45)(0.1,15.5)(0.25,15.55)(0.4,15.65)(0.5,15.75)(0.55,15.7)(0.65,15.6)(0.75,15.55)(0.85,15.5)(1.0,15.45)(1.1,15.5)}{bot}

% ---------------- row 6
\ttl{0}{6}{17}
\band{0}{6}{0}{14.26}{V}{(-0.2,15.44)(-0.15,15.44)(0.0,14.53)(0.1,14.7)(0.25,14.98)(0.5,15.18)(0.75,15.31)(0.85,15.44)(1.0,14.53)(1.1,14.7)(1.2,14.9)}
 {(-0.2,15.45)(0.0,14.55)(0.1,14.6)(0.25,14.95)(0.35,15.0)(0.45,15.2)(0.5,15.25)(0.7,15.25)(0.85,15.4)(1.0,14.55)(1.05,14.6)(1.15,14.75)}{}
\eband{0}{6}{1}{}
\band{0}{6}{2}{13.84}{I}{(-0.2,14.79)(-0.15,14.79)(0.0,14.42)(0.25,14.58)(0.5,14.74)(0.75,14.79)(0.85,14.79)(1.0,14.42)(1.2,14.58)}
 {(-0.15,14.75)(0.0,14.45)(0.2,14.5)(0.25,14.6)(0.3,14.55)(0.55,14.8)(0.8,14.75)(1.0,14.45)(1.2,14.55)}{botx}

\ttl{1}{6}{1020}
\band{1}{6}{0}{18.52}{VE}{(-0.2,19.63)(-0.15,19.6)(0.0,18.63)(0.1,18.95)(0.25,19.31)(0.5,19.55)(0.75,19.6)(0.85,19.6)(1.0,18.63)(1.1,18.95)(1.2,19.2)}
 {(-0.2,19.7)(0.0,18.65)(0.1,19.0)(0.12,19.1)(0.15,19.05)(0.2,19.25)(0.3,19.3)(0.4,19.5)(0.5,19.6)(0.6,19.55)(0.7,19.55)(0.78,19.55)(1.05,18.95)(1.1,19.1)(1.15,19.2)}{}
\eband{1}{6}{1}{}
\eband{1}{6}{2}{botx}

\ttl{2}{6}{1021}
\band{2}{6}{0}{15.05}{V}{(-0.2,15.96)(0.0,15.64)(0.25,15.8)(0.5,15.96)(0.75,16.06)(0.85,15.95)(1.0,15.64)(1.2,15.75)}
 {(-0.2,15.95)(-0.15,15.85)(-0.1,15.75)(0.0,15.65)(0.1,15.7)(0.25,15.8)(0.35,15.85)(0.45,15.9)(0.55,15.95)(0.7,16.0)(0.8,15.95)(0.85,15.85)(0.9,15.75)(1.0,15.65)(1.1,15.7)}{}
\band{2}{6}{1}{14.95}{R}{(-0.2,15.81)(0.0,15.45)(0.25,15.66)(0.5,15.77)(0.75,15.8)(0.85,15.7)(1.0,15.45)(1.2,15.55)}
 {(0.05,15.45)(0.1,15.5)(0.25,15.6)(0.3,15.65)(0.45,15.75)(0.55,15.75)(0.7,15.85)(1.05,15.45)(1.15,15.5)}{}
\band{2}{6}{2}{14.45}{I}{(-0.2,15.28)(0.0,15.05)(0.25,15.15)(0.5,15.25)(0.75,15.3)(0.85,15.2)(1.0,15.05)(1.2,15.12)}
 {(-0.2,15.25)(-0.1,15.1)(0.0,15.05)(0.1,15.1)(0.25,15.15)(0.35,15.2)(0.45,15.25)(0.55,15.3)(0.7,15.3)(0.85,15.2)(0.95,15.05)(1.05,15.05)}{botx}

\ttl{3}{6}{1022}
\band{3}{6}{0}{18.04}{V}{(-0.2,18.65)(0.0,18.48)(0.25,18.68)(0.5,19.0)(0.6,19.0)(0.75,18.8)(1.0,18.48)(1.2,18.6)}
 {(-0.15,18.6)(-0.05,18.5)(0.05,18.55)(0.1,18.5)(0.15,18.6)(0.25,18.65)(0.35,18.8)(0.4,18.9)(0.45,19.0)(0.5,18.95)(0.55,19.05)(0.6,19.0)(0.65,18.95)(0.7,18.85)(0.8,18.7)(0.9,18.55)(1.0,18.5)(1.1,18.55)}{}
\band{3}{6}{1}{17.85}{R}{(-0.2,18.55)(0.0,18.45)(0.25,18.55)(0.5,18.7)(0.75,18.6)(1.0,18.45)(1.2,18.5)}
 {(-0.15,18.55)(0.0,18.45)(0.1,18.45)(0.25,18.55)(0.4,18.65)(0.5,18.7)(0.6,18.65)(0.7,18.6)(0.9,18.45)(1.05,18.45)(1.15,18.5)}{}
\band{3}{6}{2}{17.63}{I}{(-0.2,18.3)(0.0,18.27)(0.25,18.28)(0.5,18.35)(0.75,18.3)(1.0,18.27)(1.2,18.28)}
 {(-0.15,18.3)(0.0,18.25)(0.15,18.25)(0.3,18.3)(0.45,18.35)(0.55,18.35)(0.65,18.3)(0.75,18.3)(0.95,18.25)(1.15,18.25)}{botx}

\ttl{4}{6}{1023}
\band{4}{6}{0}{16.39}{V}{(-0.2,17.3)(-0.1,17.0)(0.0,16.87)(0.25,17.08)(0.5,17.27)(0.75,17.4)(0.85,17.2)(1.0,16.87)(1.2,17.0)}
 {(-0.2,17.1)(-0.15,17.0)(-0.05,16.95)(0.05,16.85)(0.15,16.95)(0.25,17.05)(0.35,17.15)(0.45,17.25)(0.5,17.2)(0.55,17.3)(0.6,17.35)(0.7,17.4)(0.8,17.15)(0.9,16.95)(1.0,16.9)(1.1,16.95)(1.2,17.0)}{}
\band{4}{6}{1}{16.12}{R}{(-0.2,17.0)(0.0,16.68)(0.25,16.87)(0.5,17.03)(0.75,17.1)(0.88,16.9)(1.0,16.68)(1.2,16.8)}
 {(-0.2,17.0)(-0.1,16.85)(0.0,16.7)(0.15,16.75)(0.25,16.85)(0.35,16.95)(0.5,17.0)(0.6,17.05)(0.7,17.1)(0.85,16.85)(0.95,16.7)(1.1,16.75)}{}
\band{4}{6}{2}{15.92}{I}{(-0.2,16.74)(0.0,16.46)(0.25,16.57)(0.5,16.74)(0.65,16.85)(0.8,16.7)(1.0,16.46)(1.2,16.55)}
 {(-0.2,16.7)(-0.15,16.6)(0.0,16.45)(0.1,16.5)(0.2,16.5)(0.35,16.6)(0.45,16.7)(0.55,16.75)(0.65,16.8)(0.75,16.75)(0.85,16.6)(1.0,16.45)(1.15,16.5)}{botx}
\end{tikzpicture}
\end{document}
